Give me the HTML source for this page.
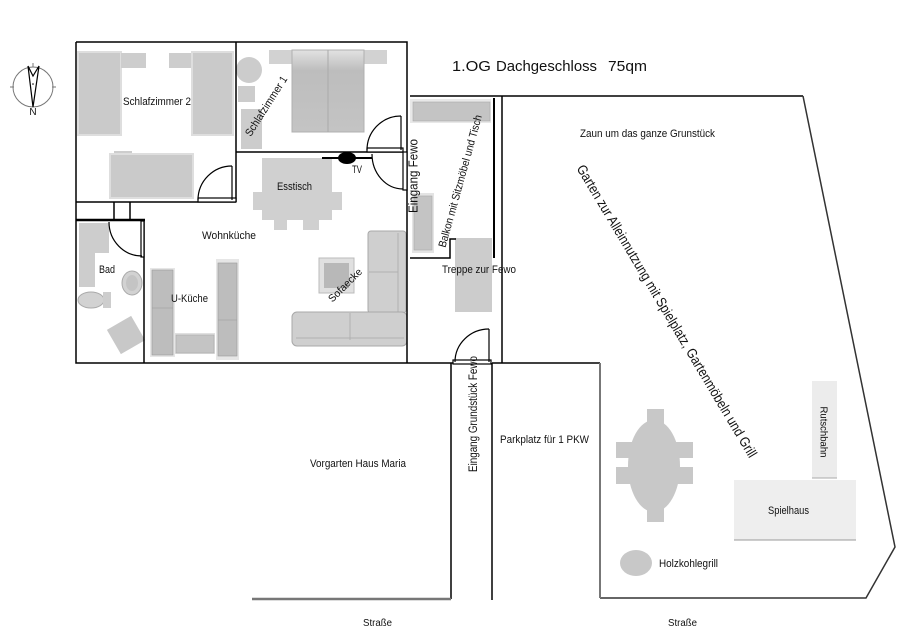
<!DOCTYPE html>
<html><head><meta charset="utf-8"><style>
html,body{margin:0;padding:0;background:#fff;}
svg{display:block;}
text{font-family:"Liberation Sans",sans-serif;fill:#111;}
</style></head><body>
<svg width="907" height="634" viewBox="0 0 907 634" xmlns="http://www.w3.org/2000/svg">
<rect width="907" height="634" fill="#fff"/>
<defs>
<linearGradient id="bed" x1="0" y1="0" x2="0" y2="1"><stop offset="0" stop-color="#e2e2e2"/><stop offset="0.25" stop-color="#bdbdbd"/><stop offset="1" stop-color="#c4c4c4"/></linearGradient>
</defs>

<!-- compass -->
<circle cx="33" cy="87" r="20" fill="none" stroke="#777" stroke-width="1"/>
<line x1="10" y1="87" x2="14" y2="87" stroke="#777"/>
<line x1="52" y1="87" x2="56" y2="87" stroke="#777"/>
<line x1="33" y1="63" x2="33" y2="67" stroke="#777"/>
<path d="M28,66 L33,76 L39,66 L33,107 Z" fill="none" stroke="#000" stroke-width="1.2"/>
<circle cx="33" cy="84" r="0.8" fill="#000"/>
<text x="33" y="115" font-size="10" text-anchor="middle">N</text>

<!-- title -->
<text x="452" y="71" font-size="15" textLength="39" lengthAdjust="spacingAndGlyphs">1.OG</text>
<text x="496" y="71" font-size="15" textLength="101" lengthAdjust="spacingAndGlyphs">Dachgeschloss</text>
<text x="608" y="71" font-size="15" textLength="39" lengthAdjust="spacingAndGlyphs">75qm</text>

<!-- furniture bedroom 2 -->
<rect x="78" y="52" width="43" height="83" fill="#cacaca" stroke="#dedede" stroke-width="2"/>
<rect x="121" y="53" width="25" height="15" fill="#cdcdcd"/>
<rect x="169" y="53" width="24" height="15" fill="#cdcdcd"/>
<rect x="192" y="52" width="41" height="83" fill="#cacaca" stroke="#dedede" stroke-width="2"/>
<rect x="114" y="151" width="18" height="4" fill="#cdcdcd"/>
<rect x="110" y="154" width="83" height="44" fill="#cacaca" stroke="#dedede" stroke-width="2"/>

<!-- bedroom 1 -->
<circle cx="249" cy="70" r="13" fill="#cccccc"/>
<rect x="238" y="86" width="17" height="16" fill="#cccccc"/>
<rect x="241" y="109" width="21" height="40" fill="#cccccc"/>
<rect x="269" y="50" width="23" height="14" fill="#d2d2d2"/>
<rect x="364" y="50" width="23" height="14" fill="#d2d2d2"/>
<rect x="292" y="50" width="72" height="82" fill="url(#bed)" stroke="#b0b0b0" stroke-width="1"/>
<line x1="328" y1="50" x2="328" y2="132" stroke="#aaa" stroke-width="1"/>

<!-- living / dining -->
<rect x="262" y="158" width="70" height="62" fill="#d0d0d0"/>
<rect x="253" y="192" width="10" height="18" fill="#d0d0d0"/>
<rect x="332" y="192" width="10" height="18" fill="#d0d0d0"/>
<rect x="274" y="219" width="13" height="11" fill="#d0d0d0"/>
<rect x="303" y="219" width="16" height="11" fill="#d0d0d0"/>
<rect x="368" y="231" width="38" height="82" rx="3" fill="#cfcfcf" stroke="#a8a8a8"/>
<line x1="398" y1="233" x2="398" y2="312" stroke="#b0b0b0"/>
<line x1="369" y1="272" x2="398" y2="272" stroke="#b0b0b0"/>
<rect x="292" y="312" width="115" height="34" rx="5" fill="#cfcfcf" stroke="#a8a8a8"/>
<line x1="350" y1="313" x2="350" y2="340" stroke="#b0b0b0"/>
<line x1="296" y1="338" x2="404" y2="338" stroke="#b0b0b0"/>
<rect x="319" y="258" width="35" height="35" fill="#e0e0e0" stroke="#bbb"/>
<rect x="324" y="263" width="25" height="25" fill="#b8b8b8"/>

<!-- kitchen -->
<rect x="150" y="268" width="25" height="89" fill="#e6e6e6"/>
<rect x="152" y="270" width="21" height="85" fill="#bdbdbd" stroke="#999" stroke-width="0.6"/>
<line x1="152" y1="308" x2="173" y2="308" stroke="#999" stroke-width="0.6"/>
<rect x="175" y="333" width="40" height="21" fill="#e0e0e0"/>
<rect x="176" y="335" width="38" height="18" fill="#c4c4c4" stroke="#aaa" stroke-width="0.6"/>
<rect x="216" y="259" width="23" height="101" fill="#e6e6e6"/>
<rect x="218" y="263" width="19" height="93" fill="#bdbdbd" stroke="#999" stroke-width="0.6"/>
<line x1="218" y1="320" x2="237" y2="320" stroke="#999" stroke-width="0.6"/>

<!-- bath -->
<rect x="79" y="223" width="30" height="30" fill="#cdcdcd"/>
<rect x="79" y="253" width="16" height="34" fill="#cdcdcd"/>
<ellipse cx="132" cy="283" rx="10" ry="12" fill="#d2d2d2" stroke="#aaa"/>
<ellipse cx="132" cy="283" rx="6" ry="8" fill="#c4c4c4"/>
<ellipse cx="91" cy="300" rx="13" ry="8" fill="#d2d2d2" stroke="#aaa"/>
<rect x="103" y="292" width="8" height="16" fill="#cdcdcd"/>
<rect x="112" y="321" width="28" height="28" fill="#c8c8c8" transform="rotate(-30 126 335)"/>

<!-- balcony -->
<rect x="410" y="99" width="81" height="24" fill="#e8e8e8"/>
<rect x="413" y="102" width="77" height="19" fill="#c4c4c4" stroke="#aaa" stroke-width="0.6"/>
<rect x="412" y="193" width="22" height="60" fill="#e4e4e4"/>
<rect x="414" y="196" width="18" height="54" fill="#c4c4c4" stroke="#aaa" stroke-width="0.6"/>
<rect x="455" y="238" width="37" height="74" fill="#cccccc"/>

<!-- walls -->
<g stroke="#000" stroke-width="1.5" fill="none">
<path d="M76,42 H407 V363"/>
<path d="M76,42 V363 H453"/>
<path d="M236,42 V202"/>
<path d="M76,202 H236"/>
<path d="M236,152 H403"/>
<path d="M144,220 V363"/>
<path d="M114,202 V220 M130,202 V220"/>
<path d="M410,96 H803"/>
<path d="M502,96 V363"/>
<path d="M410,258 H450 V239 H456"/>
<path d="M492,363 H600"/>
<path d="M451,363 V599"/>
<path d="M492,363 V600"/>
</g>
<line x1="76" y1="220" x2="145" y2="220" stroke="#000" stroke-width="2.5"/>
<line x1="494" y1="98" x2="494" y2="258" stroke="#000" stroke-width="2"/>
<path d="M803,96 L895,547 L866,598 L600,598" fill="none" stroke="#333" stroke-width="1.5"/>
<line x1="600" y1="598" x2="600" y2="363" stroke="#777" stroke-width="2"/>
<line x1="252" y1="599" x2="451" y2="599" stroke="#777" stroke-width="2.5"/>

<!-- doors -->
<g stroke="#000" stroke-width="1.2" fill="#fff">
<rect x="198" y="198" width="38" height="4"/>
<path d="M198,200 A34,34 0 0 1 232,166" fill="none"/>
<line x1="232" y1="166" x2="232" y2="200"/>
<rect x="367" y="148" width="36" height="4"/>
<path d="M367,150 A34,34 0 0 1 401,116" fill="none"/>
<line x1="401" y1="116" x2="401" y2="150"/>
<rect x="403" y="152" width="4" height="38"/>
<path d="M372,154 A31,35 0 0 0 403,189" fill="none"/>
<rect x="141" y="221" width="3" height="36" fill="#fff"/>
<path d="M109,222 A33,34 0 0 0 142,256" fill="none"/>
<rect x="453" y="360" width="38" height="4"/>
<path d="M455,362 A34,33 0 0 1 489,329" fill="none"/>
<line x1="489" y1="329" x2="489" y2="362"/>
</g>

<!-- TV -->
<line x1="322" y1="158" x2="372" y2="158" stroke="#000" stroke-width="2"/>
<ellipse cx="347" cy="158" rx="9" ry="6" fill="#000"/>

<!-- garden -->
<ellipse cx="654" cy="466" rx="26" ry="46" fill="#c8c8c8"/>
<g fill="#c8c8c8">
<rect x="647" y="409" width="17" height="16"/>
<rect x="647" y="505" width="17" height="17"/>
<rect x="616" y="442" width="18" height="16"/>
<rect x="616" y="467" width="18" height="17"/>
<rect x="676" y="442" width="17" height="16"/>
<rect x="676" y="467" width="17" height="17"/>
</g>
<ellipse cx="636" cy="563" rx="16" ry="13" fill="#c8c8c8"/>
<rect x="812" y="381" width="25" height="97" fill="#ececec"/>
<line x1="812" y1="478" x2="837" y2="478" stroke="#aaa"/>
<rect x="734" y="480" width="122" height="60" fill="#eeeeee"/>
<line x1="734" y1="540" x2="856" y2="540" stroke="#999"/>

<!-- labels -->
<g font-size="11">
<text x="123" y="105" textLength="68" lengthAdjust="spacingAndGlyphs">Schlafzimmer 2</text>
<text x="277" y="190" textLength="35" lengthAdjust="spacingAndGlyphs">Esstisch</text>
<text x="352" y="173" textLength="10" lengthAdjust="spacingAndGlyphs">TV</text>
<text x="202" y="239" textLength="54" lengthAdjust="spacingAndGlyphs">Wohnküche</text>
<text x="99" y="273" textLength="16" lengthAdjust="spacingAndGlyphs">Bad</text>
<text x="171" y="302" textLength="37" lengthAdjust="spacingAndGlyphs">U-Küche</text>
<text x="442" y="273" textLength="74" lengthAdjust="spacingAndGlyphs">Treppe zur Fewo</text>
<text x="580" y="137" textLength="135" lengthAdjust="spacingAndGlyphs">Zaun um das ganze Grunstück</text>
<text x="500" y="443" textLength="89" lengthAdjust="spacingAndGlyphs">Parkplatz für 1 PKW</text>
<text x="310" y="467" textLength="96" lengthAdjust="spacingAndGlyphs">Vorgarten Haus Maria</text>
<text x="363" y="626" font-size="10" textLength="29" lengthAdjust="spacingAndGlyphs">Straße</text>
<text x="668" y="626" font-size="10" textLength="29" lengthAdjust="spacingAndGlyphs">Straße</text>
<text x="768" y="514" textLength="41" lengthAdjust="spacingAndGlyphs">Spielhaus</text>
<text x="659" y="567" textLength="59" lengthAdjust="spacingAndGlyphs">Holzkohlegrill</text>
</g>
<g text-anchor="middle">
<text transform="translate(266,106) rotate(-57.5)" dy="0.35em" font-size="11" textLength="69" lengthAdjust="spacingAndGlyphs">Schlafzimmer 1</text>
<text transform="translate(345,285) rotate(-45)" dy="0.35em" font-size="10.5" textLength="43" lengthAdjust="spacingAndGlyphs">Sofaecke</text>
<text transform="translate(413,176) rotate(-90)" dy="0.35em" font-size="13" textLength="74" lengthAdjust="spacingAndGlyphs">Eingang Fewo</text>
<text transform="translate(460,181) rotate(-74.5)" dy="0.35em" font-size="11" textLength="137" lengthAdjust="spacingAndGlyphs">Balkon mit Sitzmöbel und Tisch</text>
<text transform="translate(667,311) rotate(59.2)" dy="0.35em" font-size="14" textLength="338" lengthAdjust="spacingAndGlyphs">Garten zur Alleinnutzung mit Spielplatz, Gartenmöbeln und Grill</text>
<text transform="translate(473,414) rotate(-90)" dy="0.35em" font-size="11.5" textLength="116" lengthAdjust="spacingAndGlyphs">Eingang Grundstück Fewo</text>
<text transform="translate(824,432) rotate(90)" dy="0.35em" font-size="10.5" textLength="51" lengthAdjust="spacingAndGlyphs">Rutschbahn</text>
</g>
</svg>
</body></html>
